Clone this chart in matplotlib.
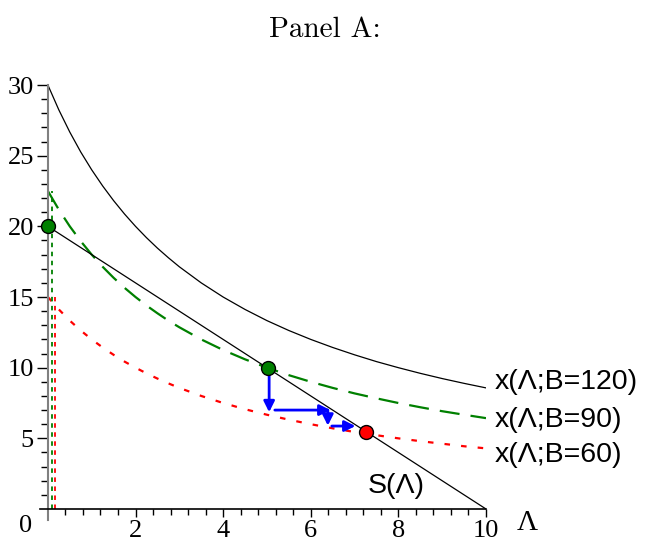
import matplotlib
matplotlib.use('Agg')
import matplotlib.pyplot as plt

# значения
lam = [0, 0.25, 0.5, 0.75, 1, 1.25, 1.5, 1.75, 2, 2.25, 2.5, 2.75, 3, 3.5, 4, 4.5, 5,
       5.5, 6, 6.5, 7, 7.5, 8, 8.5, 9, 9.5, 10]
x_b120 = [30, 28.24, 26.67, 25.26, 24, 22.86, 21.82, 20.87, 20, 19.2, 18.46, 17.78, 17.14,
          16, 15, 14.12, 13.33, 12.63, 12, 11.43, 10.91, 10.43, 10, 9.6, 9.23, 8.89, 8.57]
x_b90 = [22.5, 21.18, 20, 18.95, 18, 17.14, 16.36, 15.65, 15, 14.4, 13.85, 13.33, 12.86,
         12, 11.25, 10.59, 10, 9.47, 9, 8.57, 8.18, 7.83, 7.5, 7.2, 6.92, 6.67, 6.43]
x_b60 = [15, 14.12, 13.33, 12.63, 12, 11.43, 10.91, 10.43, 10, 9.6, 9.23, 8.89, 8.57,
         8, 7.5, 7.06, 6.67, 6.32, 6, 5.71, 5.45, 5.22, 5, 4.8, 4.62, 4.44, 4.29]
s_lam = [0, 10]
s_val = [20, 0]

vline_green = [0.09, 0, 22.5]   # x, от, до
vline_red = [0.16, 0, 15]

green_pts_x = [0, 5.03]
green_pts_y = [20, 10]
red_pts_x = [7.27]
red_pts_y = [5.47]

# стрелки: (x0, y0, x1, y1)
arrows = [
    (5.05, 10.0, 5.05, 6.85),
    (5.18, 7.0, 6.45, 7.0),
    (6.39, 7.0, 6.39, 5.9),
    (6.48, 5.87, 7.02, 5.87),
]

curve_labels = ['x(Λ;B=120)', 'x(Λ;B=90)', 'x(Λ;B=60)']
label_y = [9.0, 6.3, 3.8]

fig = plt.figure(figsize=(6.47, 5.45), dpi=100)
ax = fig.add_axes([40 / 647, 0.0453, 446 / 647, 0.7987])
ax.set_xlim(-0.18, 10.0)
ax.set_ylim(-0.8, 30)

ax.plot(lam, x_b120, color='black', lw=0.9)
ax.plot(lam, x_b90, color='#008000', lw=1.6, dashes=(9, 5))
ax.plot(lam, x_b60, color='#ff0000', lw=1.6, dashes=(2.5, 5))
ax.plot(s_lam, s_val, color='black', lw=0.9)

ax.plot([vline_green[0]] * 2, vline_green[1:], color='#008000', lw=1.3, dashes=(2.5, 2.5))
ax.plot([vline_red[0]] * 2, vline_red[1:], color='#ff0000', lw=1.3, dashes=(2.5, 2.5))

for x0, y0, x1, y1 in arrows:
    ax.annotate('', xy=(x1, y1), xytext=(x0, y0),
                arrowprops=dict(arrowstyle='-|>', color='blue', lw=2,
                                mutation_scale=16, shrinkA=0, shrinkB=0))

ax.plot(green_pts_x, green_pts_y, 'o', ms=10, color='#008000', mec='black', mew=1, zorder=5, clip_on=False)
ax.plot(red_pts_x, red_pts_y, 'o', ms=10, color='#ff0000', mec='black', mew=1, zorder=5)

# оси в стиле Maple
for sp in ['top', 'right']:
    ax.spines[sp].set_visible(False)
ax.spines['left'].set_position(('data', 0))
ax.spines['bottom'].set_position(('data', 0))
ax.spines['left'].set_bounds(-0.8, 30)
ax.spines['bottom'].set_bounds(-0.18, 10)
ax.spines['left'].set_color('#808080')
ax.spines['left'].set_linewidth(1.5)
ax.spines['bottom'].set_linewidth(1.2)

ax.set_xticks([2, 4, 6, 8, 10])
ax.set_xticks([0.4 * i for i in range(1, 25) if i % 5 != 0], minor=True)
ax.set_yticks([5, 10, 15, 20, 25, 30])
ax.set_yticks([i for i in range(1, 30) if i % 5 != 0], minor=True)
ax.tick_params(axis='both', which='major', direction='out', labelsize=19, width=1)
ax.tick_params(axis='x', which='major', length=6, pad=2)
ax.tick_params(axis='y', which='major', length=8, pad=2)
ax.tick_params(axis='x', which='minor', length=4, width=1)
ax.tick_params(axis='y', which='minor', length=5, width=1)
for lbl in ax.get_xticklabels() + ax.get_yticklabels():
    lbl.set_family('Liberation Serif')

ax.text(-0.35, -0.45, '0', ha='right', va='top', fontsize=19, family='Liberation Serif')
ax.text(10.95, -1.0, 'Λ', ha='center', va='center', fontsize=21, family='Liberation Serif')

for lbl, y in zip(curve_labels, label_y):
    ax.text(10.2, y, lbl, ha='left', va='center', fontsize=20.5, family='Liberation Sans')
ax.text(7.95, 1.65, 'S(Λ)', ha='center', va='center', fontsize=20.5, family='Liberation Sans')

fig.text(0.502, 0.945, 'Panel A:', ha='center', va='center', fontsize=21, family='cmr10')

fig.savefig('out.png', dpi=100)
